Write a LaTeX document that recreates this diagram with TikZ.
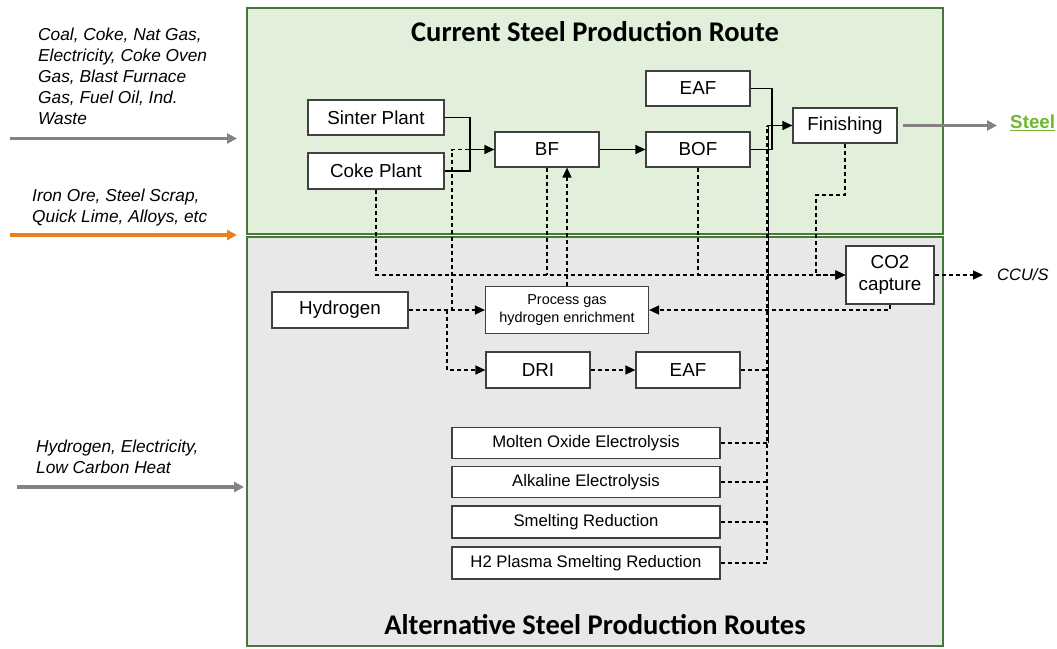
\documentclass[tikz,border=0pt]{standalone}
\usepackage{fontspec}
\setmainfont{Liberation Sans}
\newfontfamily\titlefont{Carlito}
\usetikzlibrary{arrows.meta}
\definecolor{panelgreen}{RGB}{226,239,218}
\definecolor{panelgray}{RGB}{232,232,232}
\definecolor{panelborder}{RGB}{70,120,60}
\definecolor{boxborder}{RGB}{64,64,64}
\definecolor{feedgray}{RGB}{134,130,130}
\definecolor{feedorange}{RGB}{232,128,30}
\definecolor{steelgreen}{RGB}{112,182,50}
\begin{document}
\begin{tikzpicture}[x=1pt,y=-1pt,
  box/.style={draw=boxborder, line width=1.2pt, fill=white, inner sep=0pt, align=center,
    font=\fontsize{18.8}{22.6}\selectfont},
  smallbox/.style={box, font=\fontsize{16.7}{20}\selectfont},
  tinybox/.style={box, font=\fontsize{14.4}{17.3}\selectfont},
  link/.style={line width=1.2pt},
  flow/.style={link, -{Triangle[length=10pt,width=9pt]}},
  dashlink/.style={link, line width=1.3pt, dash pattern=on 4pt off 3pt},
  dashflow/.style={flow, line width=1.3pt, dash pattern=on 4pt off 3pt},
  feed/.style={line width=3.2pt, -{Triangle[length=10pt,width=10pt]}},
  note/.style={font=\fontsize{17.3}{21}\selectfont\itshape, align=left, anchor=north west, inner sep=0pt},
  paneltitle/.style={font=\titlefont\bfseries\fontsize{28.5}{32}\selectfont, inner sep=0pt}
]
\useasboundingbox (0,0) rectangle (1057,648);

% panels
\draw[fill=panelgreen, draw=panelborder, line width=1.5pt] (247,8) rectangle (943,234);
\draw[fill=panelgray, draw=panelborder, line width=1.5pt] (247,237) rectangle (943,646);
\node[paneltitle] (curtitle) at (595,32) {Current Steel Production Route};
\node[paneltitle] (alttitle) at (595,625) {Alternative Steel Production Routes};

% inputs on the left
\node[note] (fuels) at (38,28) {Coal, Coke, Nat Gas,\\Electricity, Coke Oven\\Gas, Blast Furnace\\Gas, Fuel Oil, Ind.\\Waste};
\node[note] (ores) at (32,189) {Iron Ore, Steel Scrap,\\Quick Lime, Alloys, etc};
\node[note] (clean) at (36,440) {Hydrogen, Electricity,\\Low Carbon Heat};
\coordinate (fuelA) at (10,138.5);  \coordinate (fuelB) at (237,138.5);
\coordinate (oreA) at (10,235);     \coordinate (oreB) at (237,235);
\coordinate (cleanA) at (17,487);   \coordinate (cleanB) at (244,487);
\draw[feed, feedgray] (fuelA) -- (fuelB);
\draw[feed, feedorange] (oreA) -- (oreB);
\draw[feed, feedgray] (cleanA) -- (cleanB);

% current route
\node[box, minimum width=136pt, minimum height=35pt] (sinter) at (376,117.5) {Sinter Plant};
\node[box, minimum width=136pt, minimum height=36pt] (coke) at (376,171) {Coke Plant};
\node[box, minimum width=104pt, minimum height=35pt] (bf) at (547,149.5) {BF};
\node[box, minimum width=104pt, minimum height=35pt] (eaf) at (698,88.5) {EAF};
\node[box, minimum width=104pt, minimum height=35pt] (bof) at (698,149.5) {BOF};
\node[box, minimum width=104pt, minimum height=35pt] (fin) at (845,125.5) {Finishing};
\node[inner sep=0pt, anchor=west, text=steelgreen, font=\fontsize{18.8}{22}\selectfont\bfseries] (steel) at (1010,123) {\underline{Steel}};
\node[box, minimum width=88pt, minimum height=58pt] (co2) at (890,275) {CO2\\capture};
\node[inner sep=0pt, anchor=west, font=\fontsize{16.5}{20}\selectfont\itshape] (ccus) at (997,275) {CCU/S};

% alternative routes
\node[box, minimum width=136pt, minimum height=36pt] (hyd) at (340,310) {Hydrogen};
\node[tinybox, minimum width=163pt, minimum height=47pt] (pg) at (567,310) {Process gas\\hydrogen enrichment};
\node[box, minimum width=104pt, minimum height=36pt] (dri) at (538,370) {DRI};
\node[box, minimum width=104pt, minimum height=36pt] (eaftwo) at (688,370) {EAF};
\node[smallbox, minimum width=268pt, minimum height=31pt] (moe) at (586,443) {Molten Oxide Electrolysis};
\node[smallbox, minimum width=268pt, minimum height=31pt] (alk) at (586,482) {Alkaline Electrolysis};
\node[smallbox, minimum width=268pt, minimum height=32pt] (smr) at (586,522) {Smelting Reduction};
\node[smallbox, minimum width=268pt, minimum height=32pt] (hps) at (586,563) {H2 Plasma Smelting Reduction};

% junction points
\coordinate (bfin) at (470,149.5);
\coordinate (merge) at (772,149.5);
\coordinate (bustop) at (767,125.5);
\coordinate (finbend) at (816,195);
\coordinate (hbf) at (452,149.5);
\coordinate (hdri) at (447,310);

% main flow
\draw[link] (sinter.east) -| (bfin);
\draw[link] (coke.east) -| (bfin);
\draw[flow] (bfin) -- (bf.west);
\draw[flow] (bf.east) -- (bof.west);
\draw[link] (eaf.east) -| (merge);
\draw[link] (bof.east) -- (merge);
\draw[flow] (bustop) -- (fin.west);
\draw[feed, feedgray] ([xshift=5pt]fin.east) -- ([xshift=-13pt]steel.west |- fin.east);

% collection bus towards finishing
\draw[dashlink] (hps.east) -| (bustop);
\draw[dashlink] (smr.east) -- (smr.east -| bustop);
\draw[dashlink] (alk.east) -- (alk.east -| bustop);
\draw[dashlink] (moe.east) -- (moe.east -| bustop);
\draw[dashlink] (eaftwo.east) -- (eaftwo.east -| bustop);
\draw[link] ([xshift=1.2pt]moe.east -| bustop) -- ([xshift=1.2pt]bustop);

% off-gas to CO2 capture
\draw[dashflow] (coke.south) |- (co2.west);
\draw[dashlink] (bf.south) -- (bf.south |- co2.west);
\draw[dashlink] (bof.south) -- (bof.south |- co2.west);
\draw[dashflow] (fin.south) |- (finbend) |- (co2.west);
\draw[dashflow, shorten >=14pt] (co2.east) -- (ccus.west);
\draw[dashflow] (co2.south) |- (pg.east);
\draw[dashflow] (pg.north) -- (pg.north |- bf.south);

% hydrogen routes
\draw[dashflow] (hyd.east) -- (pg.west);
\draw[dashlink] (hyd.east) -| (hbf) -- (bfin);
\draw[dashflow] (hdri) |- (dri.west);
\draw[dashflow] (dri.east) -- (eaftwo.west);
\end{tikzpicture}
\end{document}
